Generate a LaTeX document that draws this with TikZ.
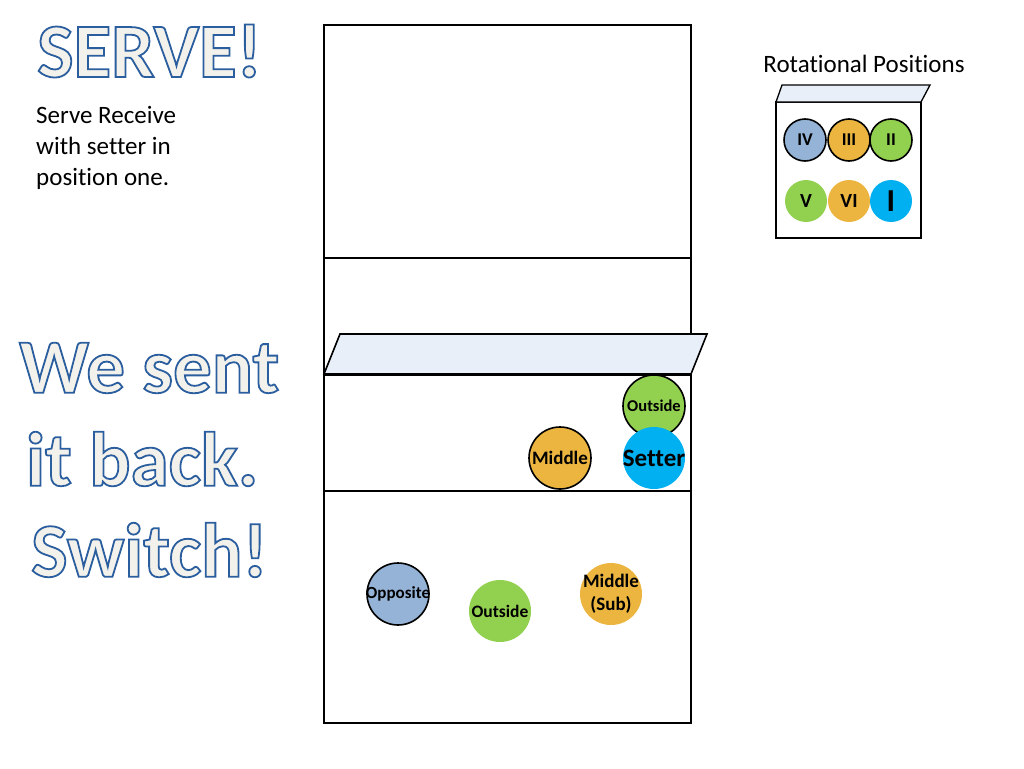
\documentclass[tikz,border=0pt]{standalone}
\usepackage{fontspec}
\setmainfont{Carlito}[Ligatures={NoCommon}]
\definecolor{pgreen}{HTML}{92D050}
\definecolor{pblue}{HTML}{00B0F0}
\definecolor{pgrey}{HTML}{95B3D7}
\definecolor{porange}{HTML}{EBB540}
\definecolor{netfill}{HTML}{E9EFF8}
\definecolor{olfill}{HTML}{F3F1EB}
\newcommand{\bigout}[1]{\textcolor{olfill}{\special{pdf:literal direct 2 Tr 1.8 w 0.17 0.37 0.62 RG}#1\special{pdf:literal direct 0 Tr}}}
\begin{document}
\begin{tikzpicture}[x=1pt,y=-1pt,
  player/.style={circle,minimum size=62pt,inner sep=0pt},
  ptext/.style={inner sep=0pt,align=center,font=\bfseries\fontsize{16.5}{17}\selectfont},
  rot/.style={circle,minimum size=42pt,inner sep=0pt,font=\bfseries\fontsize{18}{18}\selectfont},
  ring/.style={draw=black,line width=1.6pt},
  court/.style={draw=black,line width=1.6pt},
  headline/.style={anchor=west,inner sep=0pt,font=\bfseries\fontsize{77}{77}\selectfont},
  body/.style={anchor=west,inner sep=0pt,font=\fontsize{25}{31}\selectfont,align=left}]
\useasboundingbox (0,0) rectangle (1024,768);
% court
\draw[court] (324,25) rectangle (691,723);
\draw[court] (324,258) -- (691,258);
\draw[court] (324,491) -- (691,491);
\draw[court,fill=netfill] (340,334) -- (707,334) -- (691,374) -- (324,374) -- cycle;
\draw[black,line width=3pt] (324,374) -- (691,374);
% players
\node[player,fill=pgreen,ring] (out1) at (654,406) {};
\node[ptext] (out1t) at (out1) {Outside};
\node[player,fill=pblue] (set) at (654,458) {};
\node[ptext,font=\bfseries\fontsize{25}{25}\selectfont] (sett) at (set) {Setter};
\node[player,fill=porange,ring] (mid1) at (560,458) {};
\node[ptext,font=\bfseries\fontsize{19}{19}\selectfont] (mid1t) at (mid1) {Middle};
\node[player,fill=pgrey,ring] (opp) at (398,594) {};
\node[ptext,font=\bfseries\fontsize{17}{17}\selectfont] (oppt) at (opp) {Opposite};
\node[player,fill=pgreen] (out2) at (500,611) {};
\node[ptext,font=\bfseries\fontsize{17.5}{18}\selectfont] (out2t) at (out2) {Outside};
\node[player,fill=porange] (sub) at (611,594) {};
\node[ptext,font=\bfseries\fontsize{19}{23}\selectfont] (subt) at (sub) {Middle\\(Sub)};
% rotational positions
\node[font=\fontsize{25}{26}\selectfont] (rottitle) at (864,64) {Rotational Positions};
\draw[court,line width=1.3pt] (776,102) rectangle (921,238);
\draw[court,line width=1.3pt,fill=netfill] (782,85) -- (930,85) -- (921,102) -- (776,102) -- cycle;
\node[rot,fill=pgrey,ring] (p4) at (805,140) {IV};
\node[rot,fill=porange,ring] (p3) at (849,140) {III};
\node[rot,fill=pgreen,ring] (p2) at (891,140) {II};
\node[rot,fill=pgreen,font=\bfseries\fontsize{20}{20}\selectfont] (p5) at (806,201) {V};
\node[rot,fill=porange,font=\bfseries\fontsize{20}{20}\selectfont] (p6) at (849,201) {VI};
\node[rot,fill=pblue,font=\bfseries\fontsize{32}{32}\selectfont] (p1) at (891,201) {I};
% texts
\node[headline] (serve) at (37,51) {\bigout{SERVE!}};
\node[body] (desc) at (36,148) {Serve Receive\\with setter in\\position one.};
\node[headline] (l1) at (19,368) {\bigout{We sent}};
\node[headline] (l2) at (26,459) {\bigout{it back.}};
\node[headline] (l3) at (31,550) {\bigout{Switch!}};
\end{tikzpicture}
\end{document}
